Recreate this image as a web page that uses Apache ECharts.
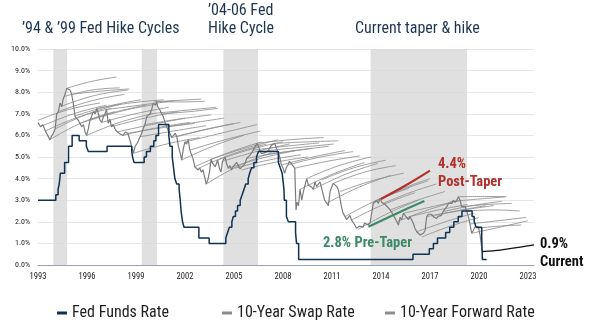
<!DOCTYPE html>
<html>
<head>
<meta charset="utf-8">
<script src="https://cdn.jsdelivr.net/npm/echarts@6/dist/echarts.min.js"></script>
<style>
html,body{margin:0;padding:0;background:#fff;}
#chart{width:592px;height:325px;}
</style>
</head>
<body>
<div id="chart"></div>
<script>
// ---------- DATA ----------
const xTickLabels = ['1993','1996','1999','2002','2005','2008','2011','2014','2017','2020','2023'];
const yTickValues = [0,1,2,3,4,5,6,7,8,9,10];

// Fed funds target: change dates and new levels
const fedDates = [1993.0,1994.09,1994.23,1994.3,1994.37,1994.63,1994.87,1995.09,1995.52,1995.96,1996.08,1997.23,1998.74,1998.79,1998.88,
  1999.5,1999.64,1999.88,2000.09,2000.22,2000.38,2001.01,2001.08,2001.22,2001.3,2001.38,2001.49,2001.64,2001.71,2001.76,2001.85,2001.94,
  2002.85,2003.48,2004.5,2004.61,2004.72,2004.87,2004.96,2005.09,2005.22,2005.38,2005.5,2005.61,2005.72,2005.87,2005.96,2006.08,2006.22,
  2006.38,2006.5,2007.72,2007.83,2007.95,2008.06,2008.08,2008.21,2008.33,2008.77,2008.83,2008.96,2015.96,2016.96,2017.21,2017.46,2017.96,
  2018.21,2018.46,2018.73,2018.96,2019.58,2019.71,2019.83,2020.17,2020.21,2020.47];
const fedValues = [3.0,3.25,3.5,3.75,4.25,4.75,5.5,6.0,5.75,5.5,5.25,5.5,5.25,5.0,4.75,
  5.0,5.25,5.5,5.75,6.0,6.5,6.0,5.5,5.0,4.5,4.0,3.75,3.5,3.0,2.5,2.0,1.75,
  1.25,1.0,1.25,1.5,1.75,2.0,2.25,2.5,2.75,3.0,3.25,3.5,3.75,4.0,4.25,4.5,4.75,
  5.0,5.25,4.75,4.5,4.25,3.5,3.0,2.25,2.0,1.5,1.0,0.25,0.5,0.75,1.0,1.25,1.5,
  1.75,2.0,2.25,2.5,2.25,2.0,1.75,1.25,0.25,0.25];

// 10-year swap rate
const swapDates = [1993.0,1993.15,1993.3,1993.45,1993.6,1993.73,1993.85,1993.94,1994.05,1994.15,1994.25,1994.35,1994.45,1994.55,1994.65,1994.76,1994.86,1994.96,
  1995.06,1995.16,1995.27,1995.37,1995.47,1995.57,1995.67,1995.78,1995.88,1995.98,1996.08,1996.18,1996.29,1996.39,1996.5,1996.6,1996.7,1996.8,1996.9,
  1997.0,1997.1,1997.2,1997.3,1997.4,1997.5,1997.6,1997.7,1997.8,1997.9,1998.05,1998.2,1998.35,1998.5,1998.62,1998.74,1998.84,1998.94,
  1999.04,1999.15,1999.25,1999.35,1999.45,1999.55,1999.66,1999.76,1999.86,1999.96,2000.06,2000.13,2000.2,2000.26,2000.33,2000.45,2000.57,2000.67,2000.78,2000.88,2000.98,
  2001.08,2001.18,2001.3,2001.4,2001.5,2001.6,2001.7,2001.8,2001.9,2002.0,2002.1,2002.2,2002.3,2002.4,2002.5,2002.6,2002.7,2002.8,2002.9,
  2003.0,2003.1,2003.2,2003.3,2003.4,2003.5,2003.6,2003.7,2003.85,2004.0,2004.1,2004.2,2004.3,2004.45,2004.55,2004.65,2004.75,2004.85,2004.95,
  2005.06,2005.16,2005.27,2005.37,2005.47,2005.57,2005.68,2005.78,2005.88,2005.98,2006.08,2006.18,2006.28,2006.39,2006.5,2006.6,2006.7,2006.8,2006.9,
  2007.0,2007.1,2007.2,2007.3,2007.4,2007.5,2007.6,2007.7,2007.8,2007.9,2008.0,2008.1,2008.2,2008.3,2008.4,2008.5,2008.6,2008.72,2008.8,2008.86,2008.95,
  2009.04,2009.15,2009.25,2009.35,2009.45,2009.55,2009.66,2009.76,2009.86,2009.96,2010.06,2010.17,2010.27,2010.37,2010.45,2010.55,2010.68,2010.78,2010.88,2010.98,
  2011.08,2011.18,2011.3,2011.4,2011.5,2011.58,2011.68,2011.8,2011.9,2012.0,2012.1,2012.2,2012.3,2012.4,2012.5,2012.6,2012.7,2012.8,2012.9,
  2013.0,2013.1,2013.2,2013.33,2013.43,2013.53,2013.63,2013.74,2013.84,2013.94,2014.05,2014.15,2014.25,2014.35,2014.45,2014.56,2014.66,2014.76,2014.87,2014.97,
  2015.07,2015.17,2015.27,2015.37,2015.47,2015.57,2015.68,2015.78,2015.88,2015.98,2016.08,2016.19,2016.29,2016.4,2016.5,2016.6,2016.7,2016.8,2016.9,
  2017.0,2017.1,2017.2,2017.3,2017.4,2017.5,2017.6,2017.7,2017.8,2017.9,2018.03,2018.13,2018.23,2018.33,2018.43,2018.54,2018.64,2018.74,2018.84,2018.94,
  2019.05,2019.15,2019.25,2019.35,2019.45,2019.55,2019.65,2019.76,2019.86,2019.96,2020.07,2020.15,2020.2];
const swapValues = [6.6,6.4,6.5,6.2,6.0,5.79,6.0,6.1,6.3,7.0,7.1,7.5,7.33,7.7,7.9,8.18,8.2,8.1,
  7.9,7.5,6.87,6.9,6.7,6.55,6.4,6.5,6.17,6.0,6.3,6.7,6.9,7.1,7.0,7.25,7.0,6.7,6.6,
  6.85,7.0,7.2,6.56,6.75,6.4,6.5,6.33,6.2,6.17,6.05,6.0,6.15,6.1,5.8,5.48,5.17,5.48,
  5.6,5.75,5.94,6.1,6.33,6.5,6.87,6.8,7.0,7.2,7.49,7.56,7.4,7.56,7.33,7.2,7.0,6.87,6.6,6.4,6.2,
  6.1,5.9,6.0,6.1,5.94,5.48,5.2,4.86,5.4,5.7,5.6,5.8,5.32,5.4,4.9,4.55,4.6,4.4,4.5,
  4.3,4.4,4.09,3.75,3.94,4.3,4.9,4.7,4.55,4.86,4.5,4.3,4.8,5.0,4.7,4.48,4.6,4.4,4.55,
  4.48,4.75,4.6,4.45,4.4,4.6,4.7,4.94,4.85,5.09,5.0,5.32,5.45,5.63,5.5,5.25,5.15,5.09,5.2,
  5.15,5.3,5.25,5.55,5.5,5.63,5.4,5.32,5.0,4.63,4.5,4.24,4.5,4.63,4.8,4.7,4.6,4.48,2.55,2.9,2.75,
  3.5,3.0,3.4,3.7,4.0,3.7,3.78,3.6,3.5,3.85,3.63,3.75,3.85,3.94,3.3,3.0,2.86,2.75,3.4,3.6,
  3.78,3.7,3.63,3.45,3.4,2.7,2.4,2.24,2.1,2.15,2.3,2.08,2.0,1.85,1.7,1.65,1.8,1.77,1.75,
  1.95,2.0,1.85,1.93,2.4,2.86,2.8,3.0,2.85,3.09,2.9,2.86,2.8,2.75,2.65,2.55,2.6,2.31,2.25,2.0,
  1.85,2.2,2.1,2.39,2.4,2.2,2.1,2.24,2.15,1.93,1.7,1.54,1.6,1.39,1.3,1.47,1.6,2.24,2.35,
  2.3,2.35,2.24,2.3,2.15,2.25,2.16,2.3,2.47,2.5,2.7,2.85,2.93,2.85,3.0,2.9,3.0,3.16,3.0,2.7,
  2.65,2.7,2.5,2.24,1.9,1.47,1.6,1.77,1.7,1.77,1.39,0.9,0.62];

// 10-year forward curves: [start year, start value, middle value, end year, end value]
const forwardCurves = [
  [1993.0,6.7,7.2,1996.8,7.5],[1993.15,6.4,7.0,1997.2,7.4],[1993.45,6.2,6.85,1997.5,7.25],[1993.73,5.8,6.6,1997.7,7.1],
  [1994.05,6.3,7.0,1998.1,7.45],[1994.25,7.1,7.6,1998.3,7.9],[1994.45,7.35,7.85,1998.5,8.1],[1994.6,7.8,8.1,1998.0,8.2],
  [1994.76,8.18,8.5,1997.8,8.7],[1995.06,7.9,8.05,1998.6,8.15],[1995.27,6.9,7.35,1999.3,7.65],[1995.57,6.55,7.05,1999.6,7.4],
  [1995.98,6.0,6.6,2000.0,7.0],[1996.2,6.7,7.15,2000.3,7.45],[1996.6,7.25,7.5,2000.7,7.65],[1996.9,6.6,7.0,2001.0,7.3],
  [1997.2,7.2,7.4,2001.3,7.6],[1997.5,6.4,6.8,2001.6,7.1],[1997.9,6.17,6.5,2002.0,6.8],[1998.2,6.0,6.35,2002.3,6.6],
  [1998.5,6.1,6.35,2002.6,6.55],[1998.84,5.17,5.6,2002.9,5.9],[1999.25,5.94,6.2,2003.3,6.45],[1999.55,6.5,6.75,2003.6,6.95],
  [1999.86,7.0,7.15,2003.9,7.3],[2000.13,7.56,7.62,2003.0,7.68],[2000.26,7.56,7.55,2003.2,7.58],[2000.57,7.0,7.1,2004.0,7.25],
  [2000.88,6.4,6.6,2004.4,6.8],[2001.18,5.9,6.25,2005.0,6.55],[2001.5,5.94,6.3,2005.4,6.6],[2001.8,4.86,5.5,2005.6,6.0],
  [2002.0,5.7,6.1,2006.4,6.5],[2002.3,5.32,5.8,2006.6,6.2],[2002.6,4.55,5.2,2006.7,5.7],[2002.9,4.5,5.15,2007.0,5.6],
  [2003.3,3.75,4.6,2007.3,5.2],[2003.6,4.9,5.4,2007.7,5.8],[2004.0,4.86,5.35,2008.0,5.7],[2004.3,4.8,5.25,2008.4,5.6],
  [2004.65,4.48,4.95,2008.8,5.3],[2005.06,4.48,4.85,2009.1,5.1],[2005.47,4.4,4.75,2009.5,5.0],[2005.78,4.94,5.2,2009.8,5.4],
  [2006.18,5.32,5.5,2010.2,5.65],[2006.39,5.63,5.8,2010.5,5.9],[2006.8,5.09,5.3,2010.8,5.5],[2007.1,5.3,5.45,2011.1,5.6],
  [2007.5,5.63,5.7,2011.4,5.75],[2007.9,4.63,5.0,2011.8,5.3],[2008.3,4.63,5.0,2012.3,5.25],[2008.72,4.48,4.8,2012.7,5.05],
  [2009.04,3.5,4.2,2013.0,4.75],[2009.45,4.0,4.6,2013.4,5.0],[2009.86,3.5,4.2,2013.8,4.7],[2010.37,3.94,4.5,2014.3,4.85],
  [2010.68,2.86,3.6,2014.6,4.15],[2011.08,3.78,4.3,2014.9,4.6],[2011.5,3.4,3.9,2015.4,4.25],[2011.8,2.24,3.0,2015.7,3.55],
  [2012.2,2.08,2.8,2016.1,3.35],[2012.6,1.65,2.4,2016.3,3.0],[2013.53,2.86,3.45,2016.9,3.9],[2013.74,3.0,3.55,2017.0,4.0],
  [2014.15,2.86,3.35,2017.4,3.75],[2014.56,2.55,3.0,2017.9,3.4],[2014.97,2.0,2.5,2018.4,2.9],[2015.37,2.39,2.7,2018.9,3.0],
  [2015.78,2.24,2.55,2019.3,2.8],[2016.19,1.54,2.0,2019.7,2.4],[2016.5,1.3,1.8,2020.0,2.2],[2016.8,2.24,2.5,2020.4,2.75],
  [2017.3,2.3,2.55,2020.9,2.75],[2017.8,2.47,2.75,2021.4,2.95],[2018.23,2.93,3.05,2021.6,3.15],[2018.74,3.16,3.17,2021.7,3.17],
  [2018.94,2.7,2.8,2022.0,2.85],[2019.25,2.5,2.55,2022.5,2.5],[2019.45,1.9,2.05,2022.9,2.2],[2019.55,1.47,1.75,2023.0,2.05],
  [2019.86,1.7,1.8,2022.6,1.85]
];

// highlighted forward curves
const preTaperDates = [2013.23, 2015.0, 2016.66];
const preTaperValues = [1.77, 2.4, 2.96];
const postTaperDates = [2014.0, 2015.5, 2017.0];
const postTaperValues = [3.06, 3.68, 4.37];
const currentDates = [2020.2, 2021.3, 2022.7, 2023.37];
const currentValues = [0.62, 0.69, 0.85, 0.93];

// hike-cycle shading (start, end)
const hikePeriods = [[1993.94,1994.78],[1999.35,2000.29],[2004.35,2006.47],[2013.37,2019.27]];

// ---------- CHART ----------
const FONT = "'Liberation Sans Narrow','Roboto Condensed','Roboto',sans-serif";
const zip = (a, b) => a.map((v, i) => [v, b[i]]);

const series = [];
series.push({
  name: 'bands', type: 'line', data: [], silent: true,
  markArea: {
    silent: true,
    itemStyle: { color: 'rgba(214,214,214,0.75)' },
    data: hikePeriods.map(p => [{ xAxis: p[0] }, { xAxis: p[1] }])
  }
});
forwardCurves.forEach(c => {
  series.push({
    name: '10-Year Forward Rate', type: 'line', symbol: 'none', smooth: 0.45,
    lineStyle: { color: '#8e8e8e', width: 0.85 }, itemStyle: { color: '#8c8c8c' },
    data: [[c[0], c[1]], [(c[0] + c[3]) / 2, c[2]], [c[3], c[4]]]
  });
});
series.push({
  name: '10-Year Swap Rate', type: 'line', symbol: 'none',
  lineStyle: { color: '#7c7c7c', width: 1.2 }, itemStyle: { color: '#8c8c8c' },
  data: zip(swapDates, swapValues)
});
series.push({
  name: 'Fed Funds Rate', type: 'line', symbol: 'none', step: 'end',
  lineStyle: { color: '#0f3152', width: 1.5 }, itemStyle: { color: '#0f3152' },
  data: zip(fedDates, fedValues)
});
series.push({
  name: 'Pre-Taper', type: 'line', symbol: 'none', smooth: 0.4,
  lineStyle: { color: '#3e8a68', width: 2.2 }, data: zip(preTaperDates, preTaperValues)
});
series.push({
  name: 'Post-Taper', type: 'line', symbol: 'none', smooth: 0.4,
  lineStyle: { color: '#b2312c', width: 2.2 }, data: zip(postTaperDates, postTaperValues)
});
series.push({
  name: 'Current', type: 'line', symbol: 'none', smooth: 0.3,
  lineStyle: { color: '#111111', width: 1.4 }, data: zip(currentDates, currentValues)
});

const legendBase = {
  icon: 'rect', itemWidth: 10, itemHeight: 3, top: 300,
  textStyle: { fontFamily: FONT, fontSize: 16, color: '#1e1e1e' },
  selectedMode: false
};

const txt = (x, y, t, size, weight, fill) => ({
  type: 'text', left: x, top: y, z: 100,
  style: { text: t, fontFamily: FONT, fontSize: size, fontWeight: weight, fill: fill }
});

const chart = echarts.init(document.getElementById('chart'), null, { renderer: 'canvas' });
chart.setOption({
  animation: false,
  backgroundColor: '#ffffff',
  grid: { left: 38, right: 58, top: 49, bottom: 60, containLabel: false },
  xAxis: {
    type: 'value', min: 1993, max: 2023.37,
    axisLine: { show: true, lineStyle: { color: '#9aa3ad', width: 1 } },
    axisTick: { show: false },
    splitLine: { show: false },
    axisLabel: {
      customValues: xTickLabels.map(Number),
      formatter: v => xTickLabels[xTickLabels.map(Number).indexOf(Math.round(v))] || '',
      fontFamily: FONT, fontSize: 8.5, color: '#222', margin: 7
    }
  },
  yAxis: {
    type: 'value', min: 0, max: 10, interval: 1,
    axisLine: { show: false }, axisTick: { show: false },
    splitLine: { lineStyle: { color: '#e1e9ef', width: 1 } },
    axisLabel: {
      formatter: v => yTickValues.indexOf(v) >= 0 ? v.toFixed(1) + '%' : '',
      fontFamily: FONT, fontSize: 8, color: '#222', margin: 8
    }
  },
  legend: [
    Object.assign({ data: ['Fed Funds Rate'], left: 52 }, legendBase),
    Object.assign({ data: ['10-Year Swap Rate'], left: 217 }, legendBase),
    Object.assign({ data: ['10-Year Forward Rate'], left: 380 }, legendBase)
  ],
  series: series,
  graphic: [
    txt(22, 21, '’94 & ’99 Fed Hike Cycles', 16, 'normal', '#1d3652'),
    txt(208, 3, '’04-06 Fed', 16, 'normal', '#1d3652'),
    txt(208, 21, 'Hike Cycle', 16, 'normal', '#1d3652'),
    txt(355, 21, 'Current taper & hike', 16, 'normal', '#1d3652'),
    txt(438, 157, '4.4%', 14.5, 'bold', '#b2312c'),
    txt(438, 175, 'Post-Taper', 14.5, 'bold', '#b2312c'),
    txt(323, 236, '2.8% Pre-Taper', 14.5, 'bold', '#3e8a68'),
    txt(540, 237, '0.9%', 14.5, 'bold', '#111111'),
    txt(540, 255, 'Current', 14.5, 'bold', '#111111')
  ]
});
</script>
</body>
</html>
